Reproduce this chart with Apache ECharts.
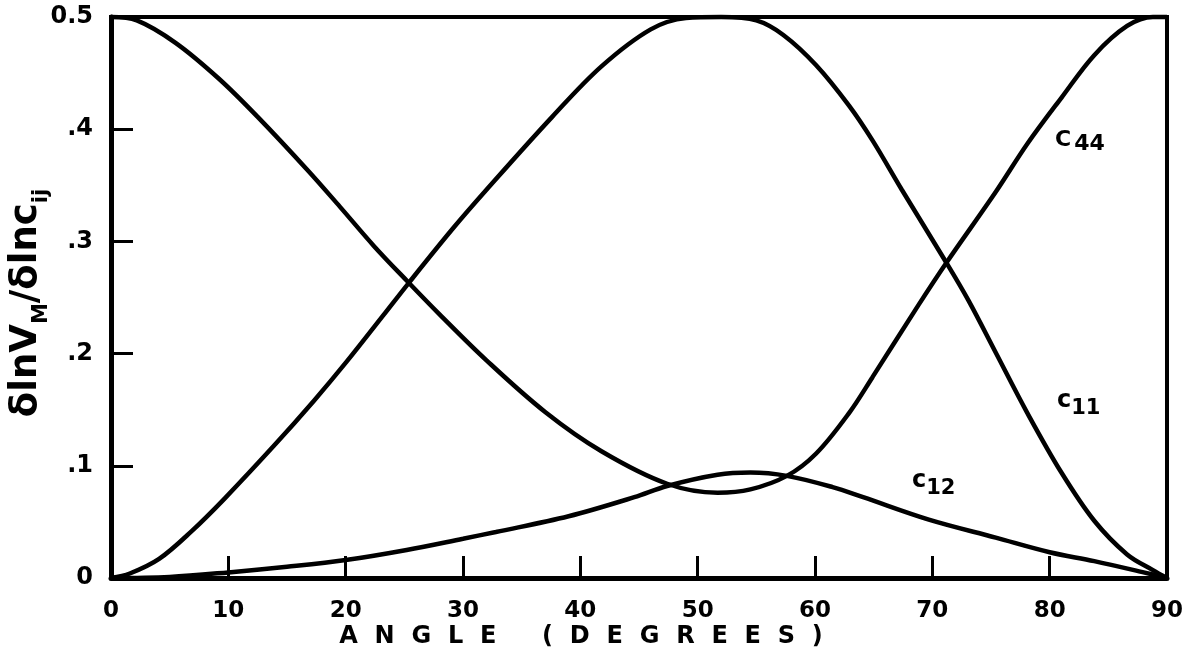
<!DOCTYPE html>
<html>
<head>
<meta charset="utf-8">
<script src="https://cdn.jsdelivr.net/npm/echarts@6/dist/echarts.min.js"></script>
<style>
html,body{margin:0;padding:0;background:#fff;}
#chart{width:1186px;height:665px;}
</style>
</head>
<body>
<div id="chart"></div>
<script>
// Angle (degrees) vs value
const c44 = [[0,0.5],[2.2,0.497],[5.5,0.477],[9.2,0.445],[12.5,0.411],[16.8,0.363],[19.5,0.331],[22.4,0.296],[25.3,0.264],[28,0.235],[32,0.194],[37,0.148],[41.8,0.113],[47.4,0.084],[51.7,0.076],[54.5,0.079],[57.6,0.091],[60.1,0.111],[62.9,0.147],[64.9,0.179],[68.8,0.243],[71.2,0.281],[75.4,0.344],[78.1,0.387],[81,0.428],[83.8,0.466],[86.6,0.492],[88.8,0.5],[90,0.5]];
const c11 = [[0,0],[1.6,0.004],[4.1,0.017],[6.9,0.042],[9.7,0.071],[13.9,0.118],[17.3,0.158],[20.1,0.193],[23.2,0.234],[25.3,0.262],[29.1,0.311],[32,0.346],[37.6,0.411],[41.8,0.456],[46,0.489],[49,0.499],[52,0.5],[55,0.497],[57.3,0.484],[60.1,0.457],[62.9,0.421],[64.9,0.39],[67.4,0.346],[71.2,0.281],[73.1,0.247],[75.4,0.201],[78.1,0.147],[81,0.094],[83.8,0.051],[86.6,0.021],[88.8,0.007],[90,0]];
const c12 = [[0,0],[5,0.001],[10,0.005],[15,0.01],[20,0.016],[25.2,0.025],[30,0.035],[32.8,0.041],[39,0.055],[44.6,0.072],[47.4,0.082],[51.7,0.092],[54.5,0.094],[57.6,0.091],[61.5,0.081],[64.1,0.072],[69.7,0.052],[75.4,0.036],[80,0.023],[83.8,0.015],[88,0.005],[90,0]];
const yTickLabels = {0:'0',1:'.1',2:'.2',3:'.3',4:'.4',5:'0.5'};
const xTitle = 'ANGLE (DEGREES)';

const FONT = '"DejaVu Sans", sans-serif';
const chart = echarts.init(document.getElementById('chart'));
function spaced(s){ return s.split('').map(ch => ch === ' ' ? '\u2002' : ch).join('\u2002\u2009'); }
function mkSeries(name, data){
  return {name, type:'line', data, showSymbol:false, smooth:0.35, clip:false,
    lineStyle:{color:'#000', width:4.5}, emphasis:{disabled:true}};
}
const rt = (size) => ({fontSize:size, fontWeight:'bold', fontFamily:FONT, fill:'#000'});
chart.setOption({
  animation:false,
  backgroundColor:'#fff',
  grid:{left:111, right:12, top:17, bottom:87, show:true, borderColor:'#000', borderWidth:4},
  xAxis:{type:'value', min:0, max:90, interval:10,
    axisLine:{show:true, lineStyle:{color:'#000', width:5}},
    axisTick:{show:true, inside:true, length:22, lineStyle:{color:'#000', width:3}},
    axisLabel:{margin:22, color:'#000', fontSize:23, fontWeight:'bold', fontFamily:FONT},
    splitLine:{show:false}},
  yAxis:{type:'value', min:0, max:0.5, interval:0.1,
    axisLine:{show:true, lineStyle:{color:'#000', width:5}},
    axisTick:{show:true, inside:true, length:22, lineStyle:{color:'#000', width:3}},
    axisLabel:{margin:18, color:'#000', fontSize:24, fontWeight:'bold', fontFamily:FONT,
      formatter: v => yTickLabels[Math.round(v*10)]},
    splitLine:{show:false}},
  series:[mkSeries('c44', c44), mkSeries('c11', c11), mkSeries('c12', c12)],
  graphic:[
    {type:'text', x:581, y:637, style:{text:spaced(xTitle), fill:'#000', font:'bold 24px '+FONT, align:'center', verticalAlign:'middle'}},
    {type:'text', x:30, y:303, rotation:Math.PI/2, style:{
      text:'{a|δlnV}{s|M}{a|/δlnc}{s|ij}', align:'center', verticalAlign:'middle',
      rich:{a:Object.assign(rt(37), {verticalAlign:'top', lineHeight:44}),
            s:Object.assign(rt(21), {verticalAlign:'bottom', lineHeight:44})}}},
    {type:'text', x:1055, y:129, style:{text:'{c|C}{s|44}', rich:{c:Object.assign(rt(22),{verticalAlign:'top',lineHeight:26}),s:Object.assign(rt(22),{verticalAlign:'bottom',lineHeight:26,padding:[0,0,0,3]})}}},
    {type:'text', x:1057, y:389, style:{text:'{c|c}{s|11}', rich:{c:Object.assign(rt(24),{verticalAlign:'top',lineHeight:30}),s:Object.assign(rt(21),{verticalAlign:'bottom',lineHeight:30})}}},
    {type:'text', x:912, y:469, style:{text:'{c|c}{s|12}', rich:{c:Object.assign(rt(24),{verticalAlign:'top',lineHeight:30}),s:Object.assign(rt(21),{verticalAlign:'bottom',lineHeight:30})}}}
  ]
});
</script>
</body>
</html>
